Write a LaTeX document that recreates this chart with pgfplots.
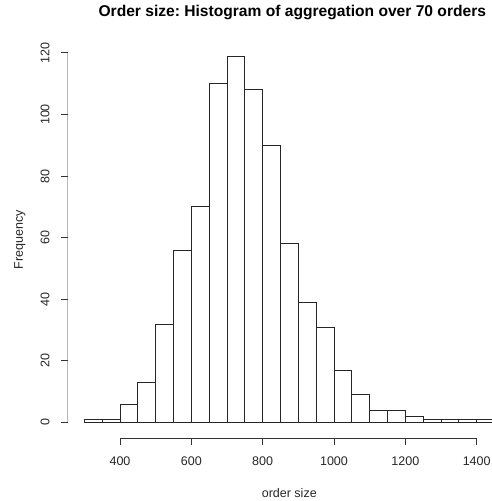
\documentclass[border=0pt]{standalone}
\usepackage{pgfplots}
\pgfplotsset{compat=1.18}
\usepackage{fontspec}
\setmainfont{Liberation Sans}
\usetikzlibrary{calc}
\frenchspacing

\begin{document}
\begin{tikzpicture}
\begin{axis}[name=ax, scale only axis,
  width=443.2pt, height=397.2pt,
  xmin=253.4, xmax=1496, ymin=-5.2, ymax=123.76,
  axis line style={draw=none},
  xtick={400,600,...,1400}, ytick={0,20,...,120},
  tick align=outside, xtick pos=bottom, ytick pos=left,
  major tick length=6.5pt,
  tick style={black!80, line width=0.8pt},
  ticklabel style={font=\fontsize{12.5}{14}\selectfont, inner sep=0pt, text=black!85},
  /pgf/number format/assume math mode=true,
  /pgf/number format/1000 sep={},
  xticklabel shift=11.7pt,
  yticklabel shift=11.5pt,
  yticklabel style={rotate=90, anchor=south},
]
% counts per bin of width 50, from 300 to 1450 (last point closes the interval)
\addplot[ybar interval, draw=black!85, fill=white, line width=0.8pt] coordinates {
  (300,1) (350,1) (400,6) (450,13) (500,32) (550,56) (600,70) (650,110)
  (700,119) (750,108) (800,90) (850,58) (900,39) (950,31) (1000,17)
  (1050,9) (1100,4) (1150,4) (1200,2) (1250,1) (1300,1) (1350,1) (1400,1)
  (1450,1)};
\draw[black!80, line width=0.8pt] (axis cs:400,-5.2) -- (axis cs:1400,-5.2);
\draw[black!80, line width=0.8pt] (axis cs:253.4,0) -- (axis cs:253.4,120);
\end{axis}
\node[anchor=base, font=\bfseries\fontsize{15.6}{18}\selectfont]
  at ($(ax.north)+(3pt,24.8pt)$) {Order size: Histogram of aggregation over 70 orders};
\node[anchor=base, font=\fontsize{12.5}{14}\selectfont, text=black!85]
  at ($(ax.south)+(0,-58.5pt)$) {order size};
\node[anchor=base, rotate=90, font=\fontsize{12.5}{14}\selectfont, text=black!85]
  at ($(ax.west)+(-44.7pt,0)$) {Frequency};
\pgfresetboundingbox
\path ($(ax.south west)+(-67.7pt,-62.5pt)$) rectangle ($(ax.south west)+(423.3pt,438.5pt)$);
\end{tikzpicture}
\end{document}
